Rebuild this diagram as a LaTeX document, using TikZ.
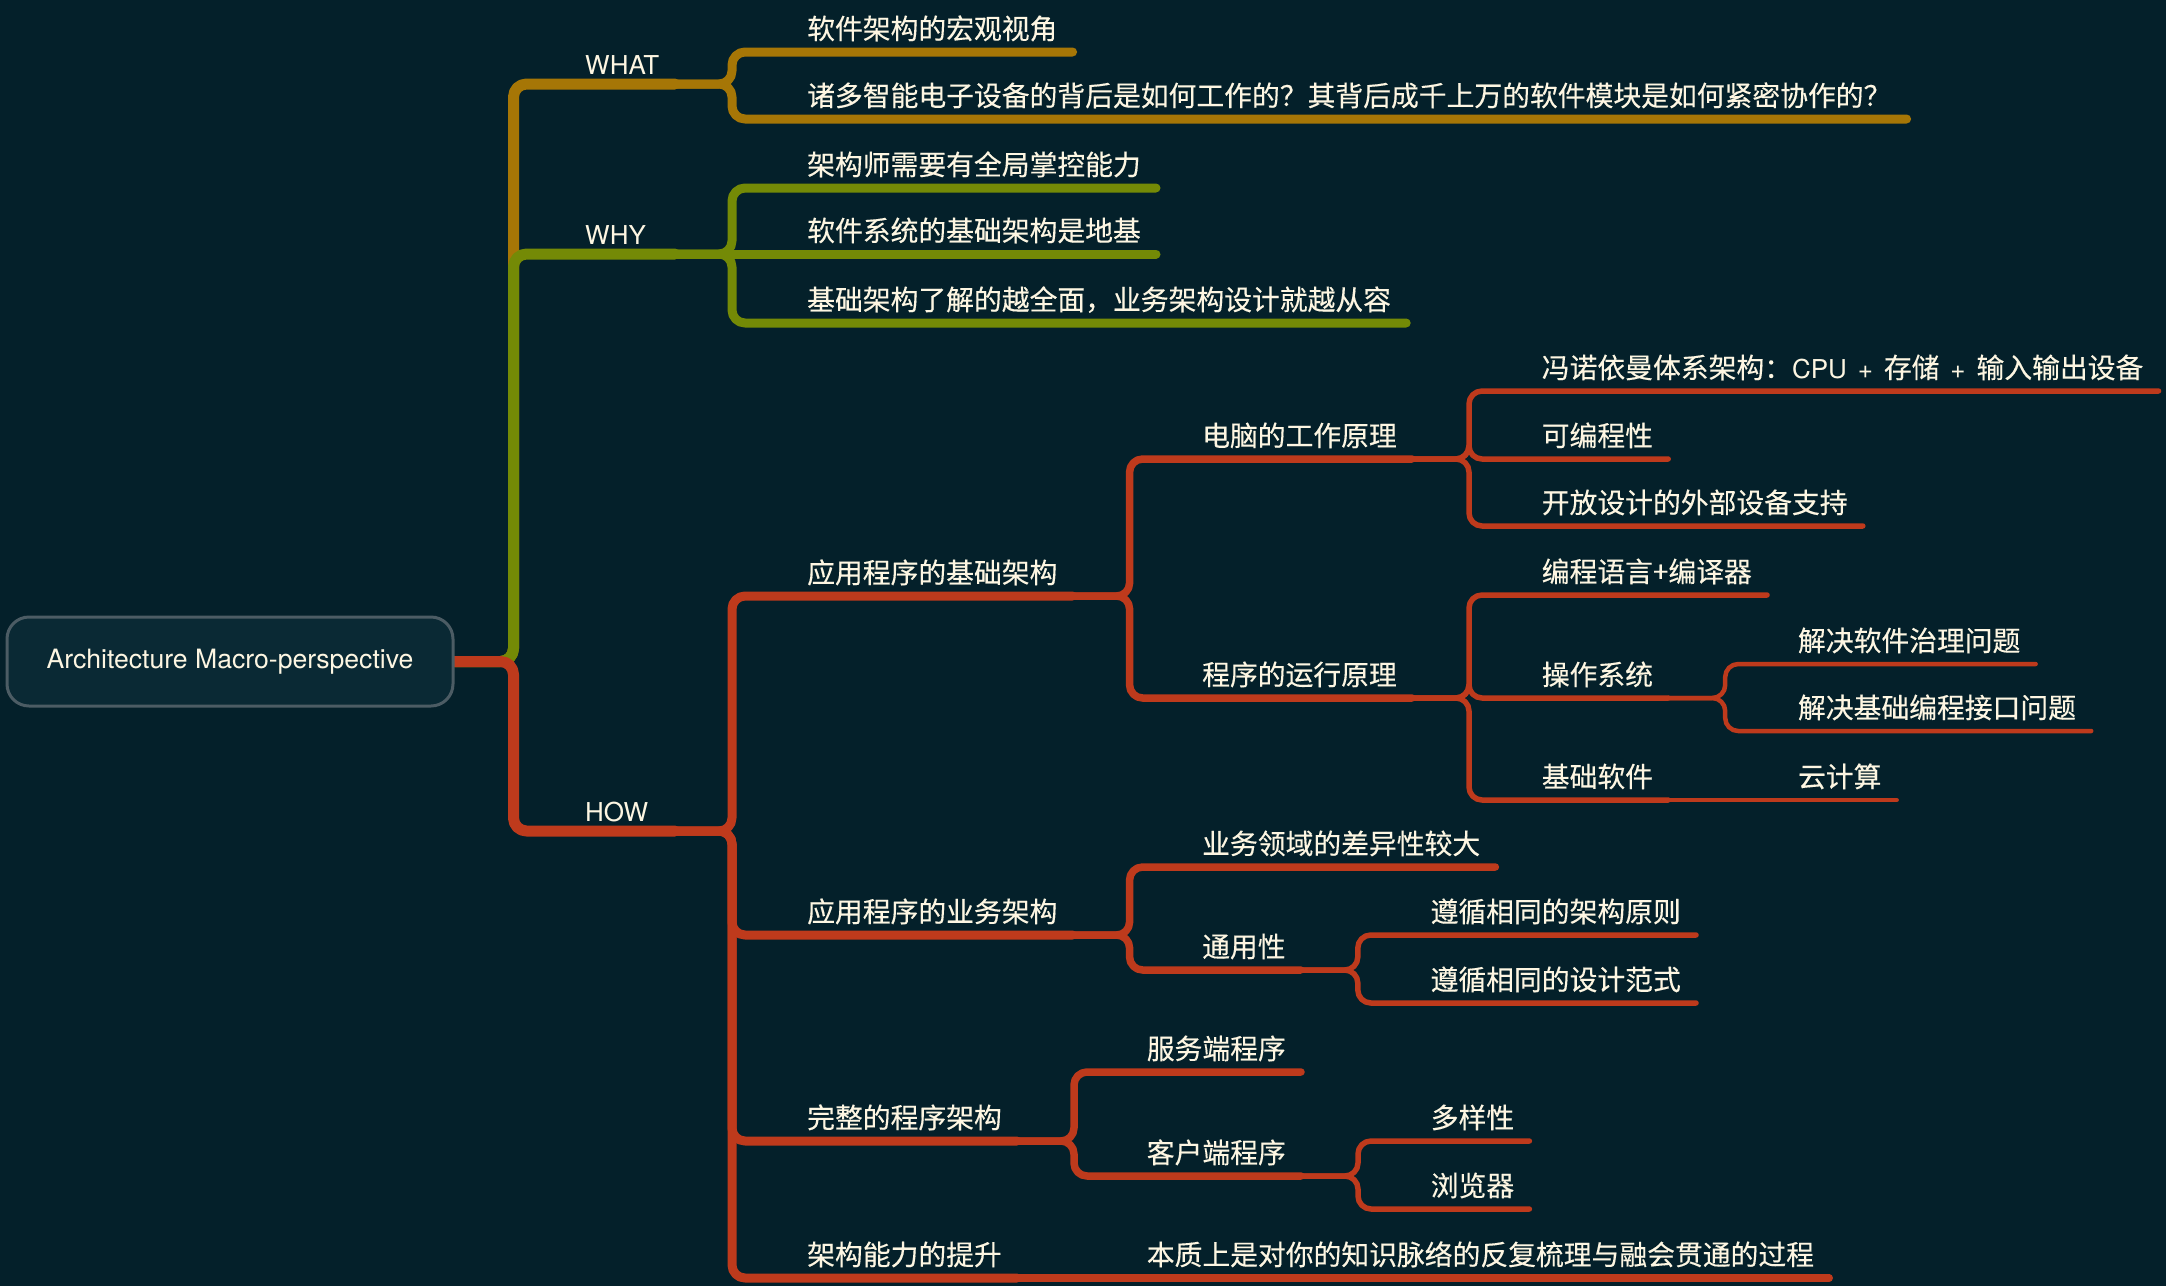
\documentclass[tikz,border=0pt]{standalone}
\usepackage{fontspec}
\newfontfamily\cjk[FakeBold=0.3]{Noto Sans CJK SC}
\newfontfamily\lat{TeX Gyre Heros}
\usetikzlibrary{calc}
\definecolor{bg}{RGB}{4,32,42}
\definecolor{boxfill}{RGB}{10,41,52}
\definecolor{boxline}{RGB}{76,92,100}
\definecolor{txt}{RGB}{253,246,226}
\definecolor{cgold}{RGB}{166,118,6}
\definecolor{cgreen}{RGB}{116,138,6}
\definecolor{cred}{RGB}{190,58,28}
\pgfdeclarelayer{bgl}
\pgfdeclarelayer{lines}
\pgfsetlayers{bgl,lines,main}
\newcommand\lt[1]{{\lat\fontsize{26}{30}\selectfont\spaceskip=0.42em\relax #1}}
% name, x, underline y, text
\newcommand\nd[4]{%
  \node[lbl] (#1) at (#2,#3-13) {#4};
  \coordinate (#1-u) at ($(#1.base east)+(15,13)$);}
% parent, child, style
\newcommand\cn[3]{\draw[br,#3] (#1-u) -- ++(57,0) |- (#2-u);}
\newcommand\sn[3]{\draw[br,#3] (#1-u) -- (#2-u);}
\begin{document}
\begin{tikzpicture}[x=1pt,y=-1pt,
  lbl/.style={anchor=base west, inner sep=0pt, text=txt, font=\cjk\fontsize{27.8}{30}\selectfont},
  toplbl/.style={anchor=base west, inner sep=0pt, text=txt, font=\lat\fontsize{26}{30}\selectfont},
  br/.style={line cap=round, line join=round, rounded corners=13pt},
  wA/.style={line width=11pt}, wB/.style={line width=9pt}, wC/.style={line width=7.5pt},
  wD/.style={line width=5.5pt}, wE/.style={line width=4.5pt}]
\begin{pgfonlayer}{bgl}
\fill[bg] (0,0) rectangle (2166,1286);
\end{pgfonlayer}
\useasboundingbox (0,0) rectangle (2166,1286);

\node[draw=boxline, line width=3pt, fill=boxfill, rounded corners=22pt,
  minimum width=446pt, minimum height=89pt, inner sep=0pt, text=txt,
  font=\lat\fontsize{26.6}{30}\selectfont] (root) at (230,661.5) {Architecture Macro-perspective};

% depth 1
\node[toplbl] (what) at (585,84-9.5) {WHAT}; \coordinate (what-u) at (675,84);
\node[toplbl] (why) at (585,254-9.5) {WHY}; \coordinate (why-u) at (675,254);
\node[toplbl] (how) at (585,831-9.5) {HOW}; \coordinate (how-u) at (675,831);

% depth 2
\nd{a1}{807}{52}{软件架构的宏观视角}
\nd{a2}{807}{119}{诸多智能电子设备的背后是如何工作的？其背后成千上万的软件模块是如何紧密协作的？}
\nd{b1}{807}{188}{架构师需要有全局掌控能力}
\nd{b2}{807}{254}{软件系统的基础架构是地基}
\nd{b3}{807}{323}{基础架构了解的越全面，业务架构设计就越从容}
\nd{c1}{807}{596}{应用程序的基础架构}
\nd{c2}{807}{935}{应用程序的业务架构}
\nd{c3}{807}{1141}{完整的程序架构}
\nd{c4}{807}{1278}{架构能力的提升}

% depth 3
\nd{d1}{1202}{459}{电脑的工作原理}
\nd{d2}{1202}{698}{程序的运行原理}
\nd{e1}{1202}{867}{业务领域的差异性较大}
\nd{e2}{1202}{970}{通用性}
\nd{f1}{1146.6}{1072}{服务端程序}
\nd{f2}{1146.6}{1176}{客户端程序}
\nd{g1}{1146.6}{1278}{本质上是对你的知识脉络的反复梳理与融会贯通的过程}

% depth 4
\nd{h1}{1541.6}{391}{冯诺依曼体系架构：\lt{CPU + }存储\lt{ + }输入输出设备}
\nd{h2}{1541.6}{459}{可编程性}
\nd{h3}{1541.6}{526}{开放设计的外部设备支持}
\nd{i1}{1541.6}{595}{编程语言+编译器}
\nd{i2}{1541.6}{698}{操作系统}
\nd{i3}{1541.6}{800}{基础软件}
\nd{j1}{1430.4}{935}{遵循相同的架构原则}
\nd{j2}{1430.4}{1003}{遵循相同的设计范式}
\nd{k1}{1430.6}{1141}{多样性}
\nd{k2}{1430.6}{1209}{浏览器}

% depth 5
\nd{l1}{1797.8}{664}{解决软件治理问题}
\nd{l2}{1797.8}{731}{解决基础编程接口问题}
\nd{l3}{1797.8}{800}{云计算}

\begin{pgfonlayer}{lines}
% WHAT
\draw[br,wA,cgold] (root.east) -- ++(59,0) |- (what-u);
\cn{what}{a1}{wB,cgold}
\cn{what}{a2}{wB,cgold}
% WHY
\draw[br,wA,cgreen] (root.east) -- ++(59,0) |- (why-u);
\cn{why}{b1}{wB,cgreen}
\sn{why}{b2}{wB,cgreen}
\cn{why}{b3}{wB,cgreen}
% HOW
\draw[br,wA,cred] (root.east) -- ++(59,0) |- (how-u);
\cn{how}{c1}{wB,cred}
\cn{how}{c2}{wB,cred}
\cn{how}{c3}{wB,cred}
\cn{how}{c4}{wB,cred}
\cn{c1}{d1}{wC,cred}
\cn{c1}{d2}{wC,cred}
\cn{c2}{e1}{wC,cred}
\cn{c2}{e2}{wC,cred}
\cn{c3}{f1}{wC,cred}
\cn{c3}{f2}{wC,cred}
\sn{c4}{g1}{wC,cred}
\cn{d1}{h1}{wD,cred}
\cn{d1}{h2}{wD,cred}
\cn{d1}{h3}{wD,cred}
\cn{d2}{i1}{wD,cred}
\cn{d2}{i2}{wD,cred}
\cn{d2}{i3}{wD,cred}
\cn{e2}{j1}{wD,cred}
\cn{e2}{j2}{wD,cred}
\cn{f2}{k1}{wD,cred}
\cn{f2}{k2}{wD,cred}
\cn{i2}{l1}{wE,cred}
\cn{i2}{l2}{wE,cred}
\sn{i3}{l3}{wE,cred}
\end{pgfonlayer}
\end{tikzpicture}
\end{document}
